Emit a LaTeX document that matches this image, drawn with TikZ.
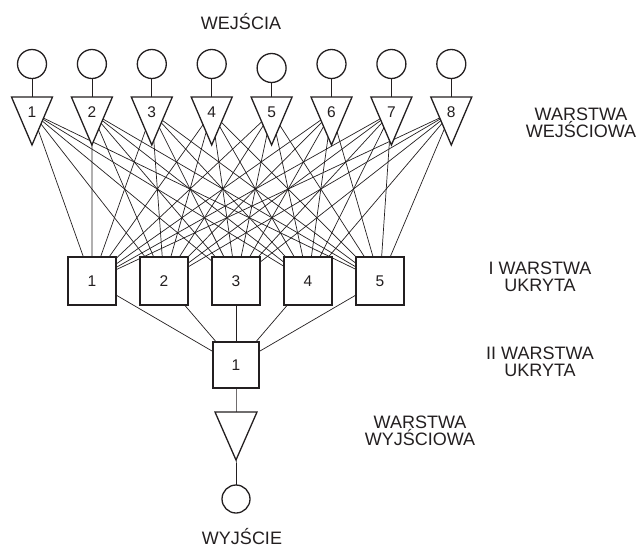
\documentclass[tikz,border=0pt]{standalone}
\usepackage{fontspec}
\setmainfont{Liberation Sans}
\definecolor{ink}{HTML}{231F20}
\pgfdeclarelayer{background}
\pgfsetlayers{background,main}
\begin{document}
\begin{tikzpicture}[x=1pt,y=-1pt,
  link/.style={line width=0.7pt, draw=ink},
  shapeln/.style={line width=1.3pt, draw=ink, fill=white},
  circ/.style={shapeln, circle, minimum size=29pt, inner sep=0pt},
  num/.style={font=\fontsize{15.5}{15.5}\selectfont, text=ink, inner sep=0pt},
  box/.style={shapeln, rectangle, minimum size=48pt, inner sep=0pt, font=\fontsize{15.5}{15.5}\selectfont, text=ink},
  title/.style={font=\fontsize{18}{17}\selectfont, text=ink, align=center, inner sep=0pt}]
\useasboundingbox (0,0) rectangle (639,547);

% input layer
\foreach \i/\cy in {1/64,2/64,3/64,4/64,5/68,6/64,7/64,8/64} {
  \pgfmathsetmacro{\xx}{32+59.9*(\i-1)}
  \node[circ] (c\i) at (\xx,\cy) {};
  \path[shapeln] (\xx-20.5,97) -- (\xx+20.5,97) -- (\xx,145) -- cycle;
  \node[num] (t\i) at (\xx,112.5) {\i};
}

% first hidden layer
\foreach \j in {1,...,5} {
  \pgfmathsetmacro{\xx}{92+72*(\j-1)}
  \node[box] (h\j) at (\xx,281) {\j};
}

% second hidden layer
\node[box, minimum size=46pt] (g1) at (236,365) {1};

% output
\path[shapeln] (215,412) -- (257,412) -- (236,460) -- cycle;
\coordinate (o1) at (236,428);
\node[circ, minimum size=28pt] (oc) at (236,499) {};

% connections (behind the shapes)
\begin{pgfonlayer}{background}
  \foreach \i in {1,...,8} {
    \draw[link] (c\i.center) -- (t\i.center);
    \foreach \j in {1,...,5} {
      \draw[link] (t\i.center) -- (h\j.center);
    }
  }
  \foreach \j in {1,...,5} {
    \draw[link] (h\j.center) -- (g1.center);
  }
  \draw[link] (g1.center) -- (o1) -- (oc.center);
\end{pgfonlayer}

% titles
\node[title, anchor=base] (tin) at (241,29.5) {WEJŚCIA};
\node[title] (tl1) at (581,122.5) {WARSTWA\\WEJŚCIOWA};
\node[title] (tl2) at (540,277) {I WARSTWA\\UKRYTA};
\node[title] (tl3) at (540,362) {II WARSTWA\\UKRYTA};
\node[title] (tl4) at (420,431) {WARSTWA\\WYJŚCIOWA};
\node[title, anchor=base] (tout) at (242,544.5) {WYJŚCIE};
\end{tikzpicture}
\end{document}
